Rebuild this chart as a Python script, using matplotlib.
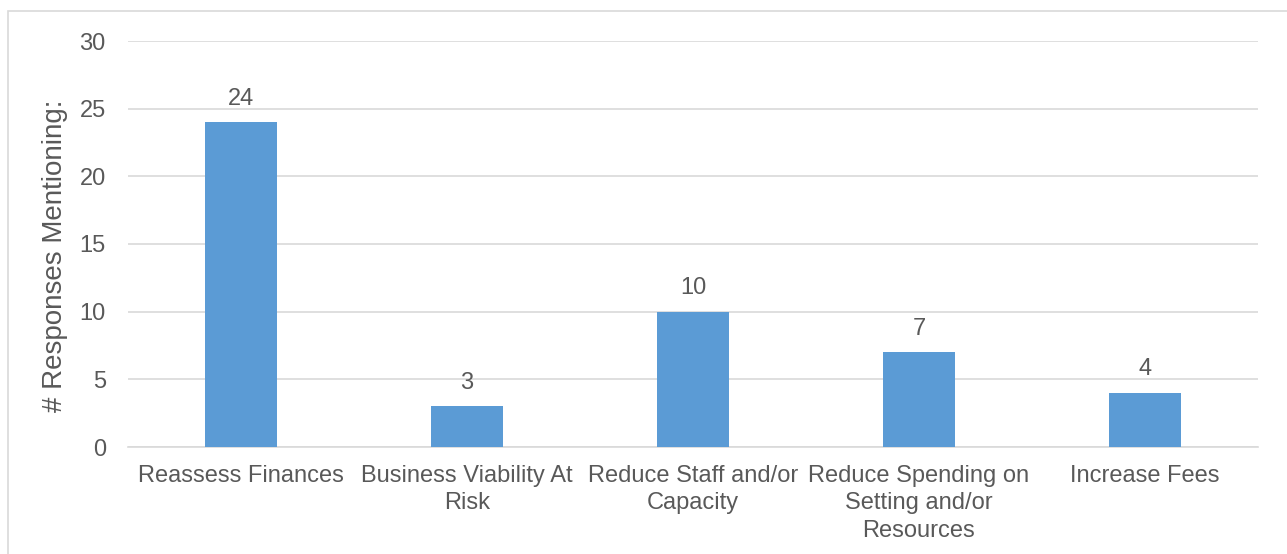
import matplotlib
matplotlib.use("Agg")
import matplotlib.pyplot as plt
from matplotlib.patches import Rectangle

categories = [
    "Reassess Finances",
    "Business Viability At\nRisk",
    "Reduce Staff and/or\nCapacity",
    "Reduce Spending on\nSetting and/or\nResources",
    "Increase Fees",
]
responses = [24, 3, 10, 7, 4]
y_ticks = [0, 5, 10, 15, 20, 25, 30]

TEXT = "#595959"
GRID = "#d9d9d9"
BAR = "#5b9bd5"
FS = 17

plt.rcParams["font.family"] = ["Liberation Sans", "DejaVu Sans"]

W, H = 1287, 554
fig = plt.figure(figsize=(W / 100, H / 100), dpi=100)
fig.patch.set_facecolor("white")

# chart-area outline
fig.patches.append(Rectangle((8 / W, -0.5), 1.5, 1.5 - 11 / H, transform=fig.transFigure,
                             fill=False, edgecolor="#d9d9d9", linewidth=1.2))

ax = fig.add_axes([128 / W, 1 - 447 / H, (1258 - 128) / W, (447 - 41) / H])
x = list(range(len(categories)))
ax.bar(x, responses, width=0.315, color=BAR, zorder=3)
for xi, v in zip(x, responses):
    ax.annotate(str(v), (xi, v), xytext=(0, 9), textcoords="offset points",
                ha="center", va="bottom", fontsize=FS, color=TEXT)

ax.set_xlim(-0.5, len(categories) - 0.5)
ax.set_ylim(0, 30)
ax.set_yticks(y_ticks)
ax.yaxis.grid(True, color=GRID, linewidth=1.2, zorder=0)
ax.set_xticks(x)
ax.set_xticklabels(categories, fontsize=FS, color=TEXT, linespacing=1.32)
ax.tick_params(axis="y", labelsize=FS, labelcolor=TEXT, length=0, pad=16)
ax.tick_params(axis="x", length=0, pad=13)
for s in ["top", "right", "left"]:
    ax.spines[s].set_visible(False)
ax.spines["bottom"].set_color(GRID)
ax.spines["bottom"].set_linewidth(1.2)
ax.set_ylabel("# Responses Mentioning:", fontsize=20, color=TEXT)
ax.yaxis.set_label_coords(-(128 - 68) / (1258 - 128), (447 - 256) / (447 - 41))

fig.savefig("out.png", dpi=100, facecolor="white")
